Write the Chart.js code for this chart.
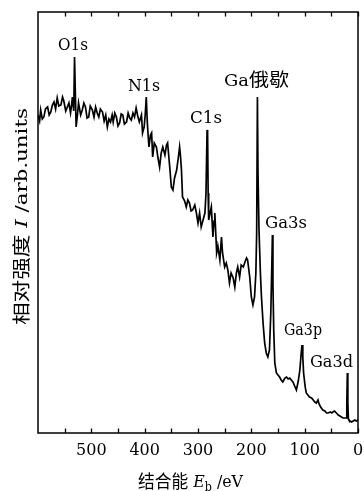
<!DOCTYPE html>
<html>
<head>
<meta charset="utf-8">
<script src="https://cdn.jsdelivr.net/npm/chart.js@4.4.0/dist/chart.umd.min.js"></script>
<style>
  html, body { margin: 0; padding: 0; background: #fff; }
  canvas { display: block; }
</style>
</head>
<body>
<canvas id="xps" width="364" height="491"></canvas>
<script>
// XPS survey spectrum (GaN sample), binding energy axis reversed

// Binding energy, eV
const energyEV = [
  600, 597, 595, 592, 589, 586, 582, 579, 576, 573, 570, 567, 564, 561, 557, 554, 552, 548, 545, 542,
  539, 537, 535.5, 533, 531.5, 530, 528.5, 526, 524, 520, 517, 514, 511, 508, 505, 502, 498, 495, 492, 489,
  486, 483, 479, 476, 473, 470, 467, 464, 461, 459, 456, 453, 450, 447, 444, 441, 438, 434, 431, 428,
  425, 422, 419, 416, 413, 410, 406, 404, 401, 399, 397, 395, 392, 389, 387, 385, 382, 378, 375, 372,
  369, 366, 362, 359, 357, 353, 350, 347, 344, 340, 337, 334.5, 333, 331, 329, 325, 322, 319, 316, 313,
  310, 306, 303, 300, 297, 294, 290, 287, 285, 283, 282, 281, 280, 277, 275, 272, 270, 268.5, 266, 265,
  262.5, 259, 256, 254, 250, 247, 244, 241, 238, 234, 231, 228, 225.5, 222, 219, 215, 212, 209, 207, 203,
  200, 197, 194, 191.5, 190, 188.6, 187.5, 185.6, 183, 181, 178, 175, 172, 169, 166, 163.5, 161.5, 160.5, 159.5, 158,
  156, 153, 150, 147, 144, 141, 137, 134, 131, 128, 125, 122, 118, 115.5, 112, 109, 106.5, 105, 103.5, 102,
  99, 97, 94, 91, 87, 84, 81, 78, 75, 73, 70, 66, 62, 59, 56, 52, 49, 47, 44, 40.5,
  37, 34, 31, 28, 25, 22, 21, 20, 19, 18, 17, 15, 12, 9, 6, 3, 0
];

// Relative intensity, arb. units
const intensity = [
  318, 312, 323, 314, 316, 324, 326, 318, 321, 328, 331, 324, 335, 327, 328, 336, 333, 322, 326, 330,
  320, 328, 336, 322, 376, 340, 306, 318, 330, 318, 323, 330, 326, 315, 316, 327, 323, 316, 326, 320,
  316, 324, 321, 312, 318, 306, 314, 311, 318, 311, 320, 316, 307, 310, 319, 318, 309, 311, 320, 315,
  313, 320, 316, 325, 317, 311, 318, 300, 306, 318, 336, 310, 286, 298, 300, 276, 290, 286, 275, 266,
  280, 286, 278, 288, 290, 266, 246, 243, 255, 263, 275, 286, 278, 263, 236, 232, 226, 233, 230, 222,
  223, 228, 220, 210, 220, 206, 214, 220, 240, 303, 300, 240, 213, 221, 226, 196, 212, 220, 192, 180,
  186, 173, 196, 180, 166, 170, 163, 150, 160, 155, 146, 160, 166, 156, 168, 166, 171, 175, 173, 156,
  136, 128, 136, 160, 200, 336, 260, 203, 160, 136, 110, 90, 80, 76, 83, 120, 170, 198, 150, 103,
  70, 60, 58, 56, 53, 51, 55, 56, 54, 55, 53, 51, 46, 43, 52, 63, 80, 88, 76, 60,
  46, 40, 38, 36, 35, 33, 31, 30, 33, 29, 26, 23, 22, 20, 20, 21, 20, 21, 22, 20,
  18, 17, 16, 15, 15, 15, 30, 60, 30, 14, 13, 12, 11, 12, 13, 12, 13
];

// Tick marks (every 50 eV) and labelled ticks
const xTickMarks = [0, 50, 100, 150, 200, 250, 300, 350, 400, 450, 500, 550];
const xTickLabels = [0, 100, 200, 300, 400, 500];

// Peak annotations
const peakNames = ['O1s', 'N1s', 'C1s', 'Ga俄歇', 'Ga3s', 'Ga3p', 'Ga3d'];

const SERIF = '"DejaVu Serif", "Liberation Serif", serif';
const CJK = '"Noto Sans CJK SC", sans-serif';

// Рисует строку из кусков разных шрифтов, растянутую до нужной ширины
function drawRich(ctx, parts, x, y, width) {
  let natural = 0;
  parts.forEach(p => {
    ctx.font = p.font;
    p.w = ctx.measureText(p.t).width;
    natural += p.w;
  });
  const k = width ? width / natural : 1;
  ctx.save();
  ctx.translate(x, y);
  ctx.scale(k, 1);
  let cx = 0;
  parts.forEach(p => {
    ctx.font = p.font;
    ctx.fillText(p.t, cx, p.dy || 0);
    cx += p.w;
  });
  ctx.restore();
}

function labelParts(name) {
  // "Ga俄歇" mixes latin and CJK
  const m = name.match(/^([A-Za-z0-9]+)(.*)$/);
  const parts = [{ t: m[1], font: '16px ' + SERIF }];
  if (m[2]) parts.push({ t: m[2], font: '18px ' + CJK });
  return parts;
}

// left x, baseline y, width for each peak label
const labelBoxes = [
  [58, 49.5, 30],
  [128, 91, 32],
  [190, 123, 32],
  [224, 86, 65],
  [265, 228, 42],
  [284, 335, 38],
  [310, 367, 43]
];

const framePlugin = {
  id: 'frame',
  afterDraw(chart) {
    const ctx = chart.ctx;
    const a = chart.chartArea;
    const xs = chart.scales.x;
    ctx.save();
    ctx.strokeStyle = '#000';
    ctx.lineWidth = 1.5;
    ctx.strokeRect(a.left, a.top, a.right - a.left, a.bottom - a.top);
    // inward ticks on bottom and top
    ctx.lineWidth = 1.3;
    xTickMarks.forEach(v => {
      const px = Math.round(xs.getPixelForValue(v)) + 0.5;
      ctx.beginPath();
      ctx.moveTo(px, a.bottom);
      ctx.lineTo(px, a.bottom - 4.5);
      ctx.moveTo(px, a.top);
      ctx.lineTo(px, a.top + 4.5);
      ctx.stroke();
    });

    ctx.fillStyle = '#000';
    ctx.textBaseline = 'alphabetic';
    ctx.textAlign = 'left';

    // peak labels
    peakNames.forEach((name, i) => {
      const b = labelBoxes[i];
      drawRich(ctx, labelParts(name), b[0], b[1], b[2]);
    });

    // x axis title: 结合能 E_b / eV
    drawRich(ctx, [
      { t: '结合能', font: '18px ' + CJK, dy: 1 },
      { t: ' E', font: 'italic 17px ' + SERIF },
      { t: 'b', font: '12px ' + SERIF, dy: 4 },
      { t: ' /eV', font: '17px ' + SERIF }
    ], 138, 487, 105);

    // y axis title: 相对强度 I /arb.units (rotated)
    ctx.save();
    ctx.translate(27, 325);
    ctx.rotate(-Math.PI / 2);
    drawRich(ctx, [
      { t: '相对强度', font: '18px ' + CJK, dy: 1 },
      { t: ' I', font: 'italic 17px ' + SERIF },
      { t: ' /arb.units', font: '17px ' + SERIF }
    ], 0, 0, 217);
    ctx.restore();
    ctx.restore();
  }
};

const points = energyEV.map((e, i) => ({ x: e, y: intensity[i] }));

new Chart(document.getElementById('xps'), {
  type: 'line',
  data: {
    datasets: [{
      data: points,
      borderColor: '#000',
      borderWidth: 1.7,
      borderJoinStyle: 'miter',
      pointRadius: 0,
      tension: 0,
      fill: false
    }]
  },
  options: {
    responsive: false,
    animation: false,
    layout: { padding: { left: 38, top: 12, right: 6, bottom: 0 } },
    plugins: {
      legend: { display: false },
      tooltip: { enabled: false }
    },
    scales: {
      x: {
        type: 'linear',
        reverse: true,
        min: 0,
        max: 600,
        afterFit: s => { s.height = 58; },
        afterBuildTicks: s => { s.ticks = xTickLabels.map(v => ({ value: v })); },
        grid: { display: false, drawTicks: false },
        border: { display: false },
        ticks: {
          autoSkip: false,
          maxRotation: 0,
          padding: 8,
          color: '#000',
          font: { family: SERIF, size: 16 },
          callback: v => String(v)
        }
      },
      y: { display: false, min: 0, max: 421 }
    }
  },
  plugins: [framePlugin]
});
</script>
</body>
</html>
